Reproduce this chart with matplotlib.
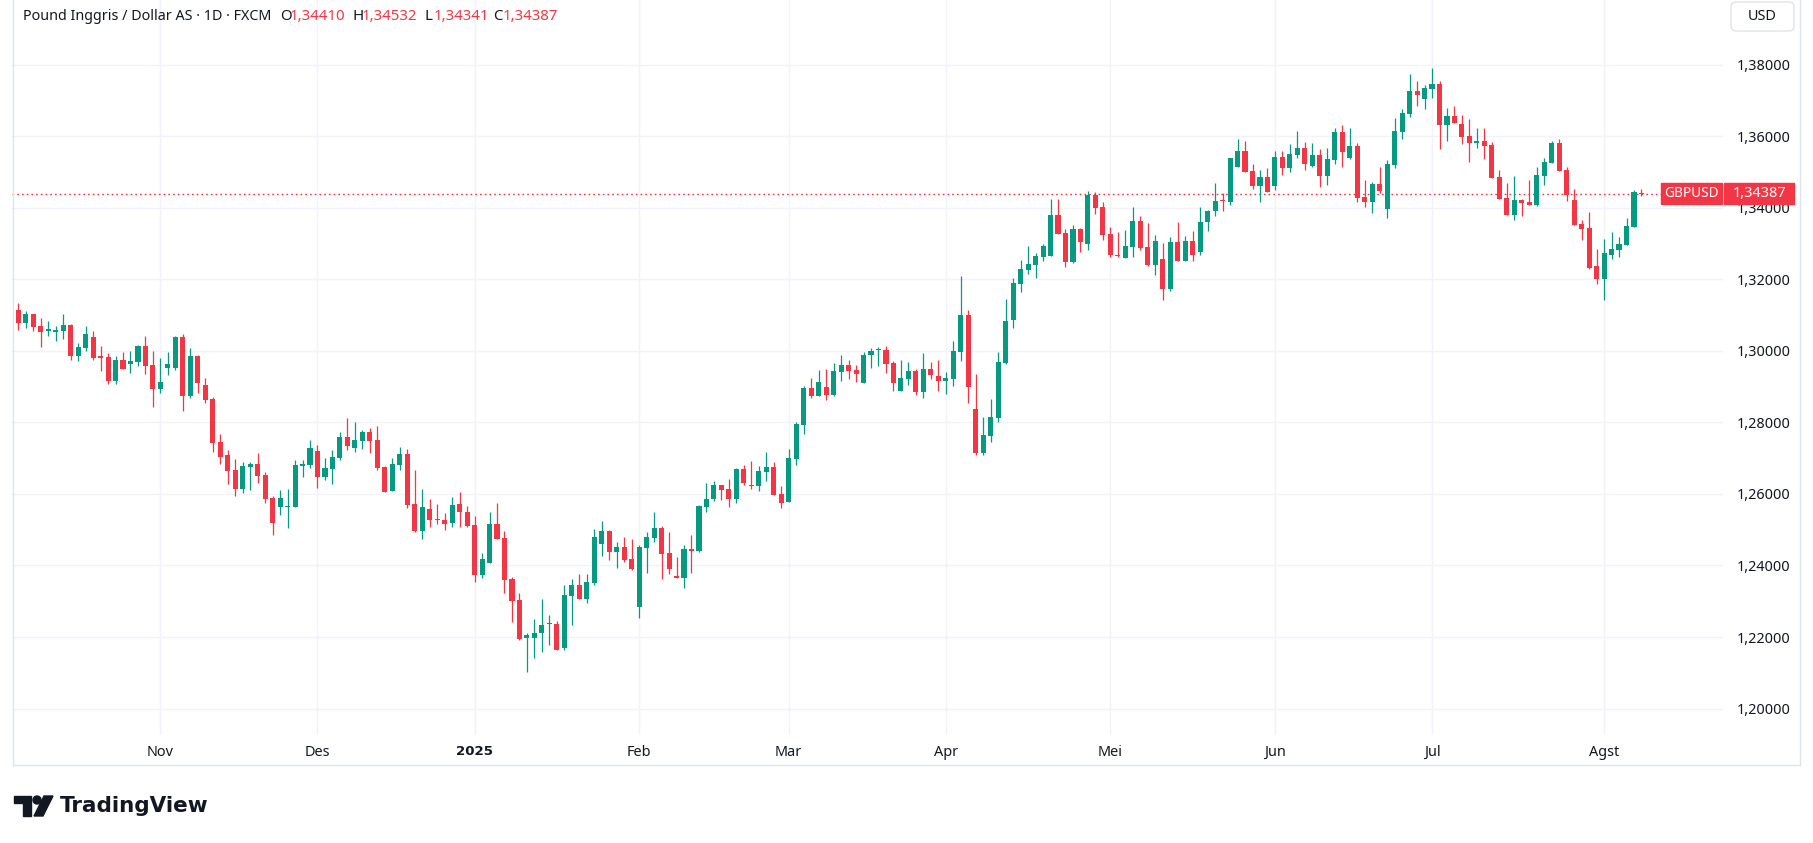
import matplotlib
matplotlib.use("Agg")
import matplotlib.pyplot as plt
import matplotlib.transforms as mtransforms
from matplotlib.patches import Rectangle, FancyBboxPatch, Circle, Polygon
from matplotlib.lines import Line2D
import numpy as np

plt.rcParams['font.family'] = ['Noto Sans', 'DejaVu Sans']

# daily GBPUSD candles (FXCM), oldest first
opens = [
    1.31146, 1.30792, 1.31035, 1.30699, 1.30569, 1.30541, 1.30569, 1.30736, 1.29870, 1.30093,
    1.30391, 1.29832, 1.29832, 1.29171, 1.29748, 1.29646, 1.29702, 1.30140, 1.29609, 1.28947,
    1.29525, 1.29534, 1.30391, 1.28751, 1.29860, 1.29049, 1.28658, 1.27456, 1.27080, 1.26657,
    1.26150, 1.26751, 1.26826, 1.26516, 1.25897, 1.25643, 1.25643, 1.25643, 1.26770, 1.26798,
    1.27192, 1.26460, 1.26685, 1.26995, 1.27587, 1.27277, 1.27474, 1.27728, 1.27502, 1.26742,
    1.26094, 1.26798, 1.27108, 1.25728, 1.24967, 1.25587, 1.25305, 1.25277, 1.25185, 1.25731,
    1.25509, 1.25120, 1.23741, 1.24074, 1.25148, 1.24759, 1.23620, 1.23037, 1.21963, 1.21963,
    1.22102, 1.22352, 1.22370, 1.21685, 1.23157, 1.23454, 1.23074, 1.23509, 1.24602, 1.24954,
    1.24380, 1.24509, 1.24176, 1.22852, 1.24491, 1.24768, 1.25037, 1.24342, 1.23711, 1.23637,
    1.24463, 1.24417, 1.25643, 1.25857, 1.26247, 1.26135, 1.25857, 1.26693, 1.26256, 1.26228,
    1.26618, 1.26749, 1.25996, 1.25782, 1.26981, 1.27928, 1.28950, 1.28737, 1.28978, 1.28764,
    1.29405, 1.29591, 1.29452, 1.29099, 1.29879, 1.30019, 1.30037, 1.29647, 1.28885, 1.29220,
    1.29434, 1.28857, 1.29490, 1.29294, 1.29164, 1.29220, 1.29973, 1.30996, 1.28374, 1.27146,
    1.27630, 1.28132, 1.29666, 1.30866, 1.31870, 1.32261, 1.32400, 1.32624, 1.32652, 1.33786,
    1.33284, 1.32484, 1.33396, 1.32986, 1.34344, 1.34009, 1.33256, 1.32689, 1.32600, 1.32905,
    1.33644, 1.32895, 1.32406, 1.32563, 1.31740, 1.33034, 1.32517, 1.33062, 1.32766, 1.33598,
    1.33902, 1.34207, 1.34152, 1.35150, 1.35584, 1.35030, 1.34623, 1.34863, 1.34596, 1.35418,
    1.35122, 1.35483, 1.35667, 1.35178, 1.35473, 1.34900, 1.35344, 1.36111, 1.35381, 1.35717,
    1.34291, 1.34160, 1.34654, 1.33964, 1.35195, 1.36117, 1.36611, 1.37254, 1.37040, 1.37320,
    1.37450, 1.36313, 1.36555, 1.36332, 1.35996, 1.35810, 1.35856, 1.35745, 1.34850, 1.34263,
    1.33797, 1.34207, 1.34151, 1.34076, 1.34887, 1.35251, 1.35800, 1.35046, 1.34205, 1.33535,
    1.33423, 1.32363, 1.32010, 1.32679, 1.32819, 1.32958, 1.33461, 1.34410,
]
highs = [
    1.31333, 1.31118, 1.31035, 1.30923, 1.30839, 1.30699, 1.31035, 1.30755, 1.30224, 1.30699,
    1.30559, 1.30140, 1.29944, 1.29860, 1.29972, 1.30000, 1.30168, 1.30419, 1.30000, 1.29804,
    1.29972, 1.30419, 1.30475, 1.30084, 1.29888, 1.29245, 1.28714, 1.27679, 1.27221, 1.26967,
    1.26883, 1.26883, 1.27136, 1.26601, 1.25953, 1.26122, 1.26150, 1.26939, 1.26939, 1.27502,
    1.27361, 1.26995, 1.27221, 1.27728, 1.28122, 1.28009, 1.27784, 1.27840, 1.27897, 1.26770,
    1.26995, 1.27305, 1.27249, 1.26657, 1.26150, 1.25868, 1.25728, 1.25474, 1.25926, 1.26065,
    1.25676, 1.25370, 1.24342, 1.25509, 1.25759, 1.24954, 1.23676, 1.23231, 1.22120, 1.22509,
    1.23065, 1.22620, 1.22454, 1.23454, 1.23620, 1.23759, 1.23759, 1.25009, 1.25231, 1.24981,
    1.24648, 1.24787, 1.24731, 1.24565, 1.24926, 1.25509, 1.25093, 1.24926, 1.24240, 1.24575,
    1.24853, 1.25690, 1.26303, 1.26358, 1.26247, 1.26414, 1.26721, 1.26804, 1.26916, 1.26776,
    1.27167, 1.26888, 1.26219, 1.27250, 1.28003, 1.29006, 1.29229, 1.29452, 1.29480, 1.29647,
    1.29898, 1.29731, 1.29591, 1.29981, 1.30093, 1.30121, 1.30149, 1.29703, 1.29741, 1.29685,
    1.29490, 1.29936, 1.29685, 1.29741, 1.29406, 1.30271, 1.32084, 1.31136, 1.29350, 1.28150,
    1.28653, 1.29964, 1.31443, 1.32028, 1.32531, 1.32921, 1.32726, 1.32977, 1.34233, 1.34233,
    1.33396, 1.33507, 1.33423, 1.34456, 1.34428, 1.34149, 1.33451, 1.33312, 1.33367, 1.34032,
    1.33782, 1.33561, 1.33228, 1.33006, 1.33173, 1.33616, 1.33200, 1.33339, 1.34032, 1.33949,
    1.34697, 1.34420, 1.35390, 1.35917, 1.35861, 1.35224, 1.35058, 1.35113, 1.35584, 1.35584,
    1.35778, 1.36139, 1.35834, 1.35806, 1.35640, 1.35667, 1.36222, 1.36305, 1.36220, 1.35800,
    1.34766, 1.34710, 1.35129, 1.35325, 1.36499, 1.36751, 1.37730, 1.37534, 1.37422, 1.37897,
    1.37534, 1.36779, 1.36835, 1.36583, 1.36472, 1.36220, 1.36220, 1.35838, 1.35046, 1.34682,
    1.34878, 1.34235, 1.34766, 1.35129, 1.35381, 1.35866, 1.35912, 1.35129, 1.34539, 1.33647,
    1.33870, 1.32838, 1.33117, 1.33312, 1.33172, 1.33702, 1.34484, 1.34532,
]
lows = [
    1.30587, 1.30652, 1.30569, 1.30121, 1.30429, 1.30289, 1.30336, 1.29758, 1.29730, 1.30009,
    1.29758, 1.29450, 1.29087, 1.29087, 1.29506, 1.29394, 1.29590, 1.29366, 1.28444, 1.28835,
    1.29338, 1.29478, 1.28332, 1.28695, 1.28835, 1.28555, 1.27185, 1.26850, 1.26291, 1.25953,
    1.26037, 1.26122, 1.26319, 1.25756, 1.24854, 1.25418, 1.25052, 1.25643, 1.26460, 1.26714,
    1.26178, 1.26376, 1.26291, 1.26939, 1.27221, 1.27164, 1.27249, 1.27136, 1.26657, 1.26066,
    1.26094, 1.26657, 1.25615, 1.24939, 1.24742, 1.25080, 1.25164, 1.24995, 1.25074, 1.25074,
    1.25074, 1.23546, 1.23648, 1.24074, 1.24741, 1.23241, 1.22407, 1.21926, 1.21018, 1.21407,
    1.21574, 1.21768, 1.21629, 1.21629, 1.22324, 1.23074, 1.22963, 1.23463, 1.24259, 1.24157,
    1.23935, 1.24102, 1.23879, 1.22518, 1.23796, 1.24648, 1.23629, 1.23768, 1.23637, 1.23358,
    1.23776, 1.24389, 1.25504, 1.25801, 1.25838, 1.25643, 1.25755, 1.26256, 1.26145, 1.26089,
    1.26368, 1.25977, 1.25615, 1.25782, 1.26814, 1.27678, 1.28681, 1.28737, 1.28625, 1.28737,
    1.29155, 1.29210, 1.29127, 1.29099, 1.29517, 1.29573, 1.29378, 1.28876, 1.28885, 1.29052,
    1.28773, 1.28690, 1.29220, 1.28885, 1.28801, 1.29025, 1.29722, 1.28550, 1.27090, 1.27090,
    1.27463, 1.28020, 1.29638, 1.30643, 1.31647, 1.32149, 1.32037, 1.32512, 1.32652, 1.33265,
    1.32345, 1.32456, 1.32763, 1.32819, 1.33823, 1.33098, 1.32624, 1.32633, 1.32600, 1.32627,
    1.32821, 1.32378, 1.32128, 1.31435, 1.31685, 1.32517, 1.32517, 1.32517, 1.32683, 1.33348,
    1.33764, 1.33902, 1.34069, 1.35150, 1.35011, 1.34512, 1.34152, 1.34429, 1.34485, 1.34928,
    1.35011, 1.35399, 1.35067, 1.35150, 1.34568, 1.34651, 1.35233, 1.35150, 1.35353, 1.34160,
    1.34020, 1.33853, 1.34412, 1.33713, 1.35111, 1.35922, 1.36537, 1.36844, 1.36760, 1.37068,
    1.35642, 1.35866, 1.36369, 1.35782, 1.35279, 1.35670, 1.35362, 1.34831, 1.34244, 1.33797,
    1.33657, 1.33769, 1.34076, 1.34048, 1.34635, 1.35251, 1.35027, 1.34188, 1.33516, 1.33098,
    1.32289, 1.31870, 1.31424, 1.32568, 1.32624, 1.32958, 1.33461, 1.34341,
]
closes = [
    1.30792, 1.31035, 1.30680, 1.30541, 1.30587, 1.30587, 1.30727, 1.29870, 1.30112, 1.30475,
    1.29814, 1.29814, 1.29171, 1.29748, 1.29506, 1.29720, 1.30140, 1.29590, 1.28947, 1.29133,
    1.29637, 1.30391, 1.28751, 1.29860, 1.29115, 1.28639, 1.27437, 1.27046, 1.26638, 1.26150,
    1.26770, 1.26826, 1.26488, 1.25868, 1.25192, 1.25897, 1.25662, 1.26798, 1.26826, 1.27277,
    1.26460, 1.26714, 1.27023, 1.27587, 1.27333, 1.27502, 1.27728, 1.27474, 1.26714, 1.26066,
    1.26826, 1.27108, 1.25699, 1.24967, 1.25643, 1.25277, 1.25277, 1.25164, 1.25704, 1.25491,
    1.25102, 1.23741, 1.24176, 1.25148, 1.24741, 1.23602, 1.23018, 1.21954, 1.22065, 1.22120,
    1.22342, 1.22370, 1.21629, 1.23176, 1.23454, 1.23074, 1.23537, 1.24787, 1.24954, 1.24380,
    1.24509, 1.24157, 1.23907, 1.24509, 1.24787, 1.25037, 1.24324, 1.23907, 1.23637, 1.24463,
    1.24417, 1.25662, 1.25857, 1.26247, 1.26117, 1.25857, 1.26693, 1.26312, 1.26228, 1.26637,
    1.26749, 1.25977, 1.25755, 1.27000, 1.27947, 1.28950, 1.28737, 1.29117, 1.28764, 1.29424,
    1.29591, 1.29433, 1.29340, 1.29898, 1.30009, 1.30037, 1.29628, 1.29099, 1.29238, 1.29434,
    1.28857, 1.29490, 1.29331, 1.29164, 1.29238, 1.29992, 1.30996, 1.28997, 1.27146, 1.27648,
    1.28150, 1.29685, 1.30829, 1.31889, 1.32280, 1.32419, 1.32642, 1.32921, 1.33786, 1.33265,
    1.32484, 1.33396, 1.33042, 1.34344, 1.33991, 1.33237, 1.32679, 1.32661, 1.32923, 1.33644,
    1.32877, 1.32406, 1.33062, 1.31740, 1.33034, 1.32517, 1.33062, 1.32683, 1.33616, 1.33921,
    1.34198, 1.34180, 1.35390, 1.35584, 1.35011, 1.34623, 1.34863, 1.34429, 1.35418, 1.35122,
    1.35501, 1.35667, 1.35233, 1.35473, 1.34900, 1.35362, 1.36111, 1.35566, 1.35717, 1.34272,
    1.34160, 1.34654, 1.34468, 1.35213, 1.36136, 1.36639, 1.37254, 1.37152, 1.37338, 1.37450,
    1.36313, 1.36555, 1.36369, 1.35978, 1.35810, 1.35856, 1.35726, 1.34831, 1.34244, 1.33797,
    1.34207, 1.34132, 1.34076, 1.34906, 1.35269, 1.35800, 1.35027, 1.34356, 1.33516, 1.33405,
    1.32317, 1.32010, 1.32726, 1.32838, 1.32977, 1.33479, 1.34428, 1.34387,
]

# first bar of each month (bar index) and its label
month_ticks = [19, 40, 61, 83, 103, 124, 146, 168, 189, 212]
month_labels = ["Nov", "Des", "2025", "Feb", "Mar", "Apr", "Mei", "Jun", "Jul", "Agst"]
price_ticks = [1.20, 1.22, 1.24, 1.26, 1.28, 1.30, 1.32, 1.34, 1.36, 1.38]

GREEN = "#089981"
RED = "#F23645"
TXT = "#131722"
GRID = "#f0f3fa"
BORDER = "#e0e3eb"

W, H = 1813, 843


def fmt(v):
    return f"{v:.5f}".replace(".", ",")


fig = plt.figure(figsize=(W / 100, H / 100), dpi=100)
fig.patch.set_facecolor("white")
ax = fig.add_axes([12 / W, (H - 735) / H, (1723 - 12) / W, 735 / H])

o = np.array(opens)
h = np.array(highs)
l = np.array(lows)
c = np.array(closes)
x = np.arange(len(c))
cols = np.where(c >= o, GREEN, RED)

# wicks then bodies
ax.vlines(x, l, h, colors=cols, linewidth=0.9, zorder=3)
body_bot = np.minimum(o, c)
body_h = np.maximum(np.abs(c - o), 0.0003)
ax.bar(x, body_h, bottom=body_bot, width=0.68, color=cols, linewidth=0, zorder=4)

ax.set_xlim(-0.84, 227.9)
ax.set_ylim(1.19261, 1.39809)

ax.set_yticks(price_ticks)
ax.set_yticklabels([fmt(p) for p in price_ticks])
ax.yaxis.tick_right()
ax.tick_params(axis="y", length=0, pad=10, labelsize=10.4, labelcolor=TXT)

ax.set_xticks(month_ticks)
ax.set_xticklabels(month_labels)
ax.tick_params(axis="x", length=0, pad=7, labelsize=10.4, labelcolor=TXT)
for lbl in ax.get_xticklabels():
    if lbl.get_text() == "2025":
        lbl.set_fontfamily("DejaVu Sans")
        lbl.set_fontweight("bold")
        lbl.set_fontsize(9.6)

ax.grid(True, color=GRID, linewidth=1)
ax.set_axisbelow(True)
for s in ax.spines.values():
    s.set_visible(False)

# last price line + labels
last = c[-1]
ax.axhline(last, color=RED, linewidth=1, linestyle=(0, (1.2, 2.2)), zorder=2)
trans = mtransforms.blended_transform_factory(ax.transAxes, ax.transData)
yr = (1.39809 - 1.19261) / 735
bh = 21 * yr
ax.add_patch(Rectangle((0.9638, last - bh / 2), 0.0356, bh, transform=trans,
                       color=RED, clip_on=False, zorder=6))
ax.text(0.9816, last, "GBPUSD", transform=trans, ha="center", va="center",
        color="white", fontsize=9.8, clip_on=False, zorder=7)
ax.add_patch(Rectangle((1.0006, last - bh / 2), 0.0409, bh, transform=trans,
                       color=RED, clip_on=False, zorder=6))
ax.text(1.0211, last, fmt(last), transform=trans, ha="center", va="center",
        color="white", fontsize=10.4, clip_on=False, zorder=7)

# chart frame
pix = mtransforms.IdentityTransform()
fig.add_artist(Line2D([12.5, 12.5], [H, H - 765], transform=pix, color=BORDER, linewidth=1))
fig.add_artist(Line2D([12.5, 1800], [H - 765, H - 765], transform=pix, color=BORDER, linewidth=1))
fig.add_artist(Line2D([1800, 1800], [H, H - 765], transform=pix, color=BORDER, linewidth=1))

# USD button
fig.add_artist(FancyBboxPatch((1731, H - 31), 63, 29, boxstyle="round,pad=0,rounding_size=5",
                              transform=pix, facecolor="white", edgecolor=BORDER, linewidth=1))
fig.text(1762, H - 16, "USD", transform=pix, ha="center", va="center", fontsize=10.4, color=TXT)

# header legend
hy = H - 16
fig.text(23, hy, "Pound Inggris / Dollar AS · 1D · FXCM", transform=pix,
         ha="left", va="center", fontsize=10.3, color=TXT)
parts = [("O", opens[-1], 280), ("H", highs[-1], 352), ("L", lows[-1], 424), ("C", closes[-1], 493)]
for key, val, px0 in parts:
    fig.text(px0, hy, key, transform=pix, ha="left", va="center", fontsize=10.8, color=TXT)
    fig.text(px0 + 9.5, hy, fmt(val), transform=pix, ha="left", va="center", fontsize=10.8, color=RED)

# TradingView logo
ly = H - 806
fig.add_artist(Polygon([(14, ly + 10), (31, ly + 10), (31, ly - 10), (23, ly - 10),
                        (23, ly + 3), (14, ly + 3)], closed=True, transform=pix, color=TXT))
fig.add_artist(Circle((37, ly + 6), 4, transform=pix, color=TXT))
fig.add_artist(Polygon([(44, ly + 10), (53, ly + 10), (43, ly - 10), (34, ly - 10)],
                       closed=True, transform=pix, color=TXT))
fig.text(60, ly, "TradingView", transform=pix, ha="left", va="center",
         fontsize=15.5, fontweight="bold", family="DejaVu Sans", color=TXT)

fig.savefig("out.png", dpi=100)
